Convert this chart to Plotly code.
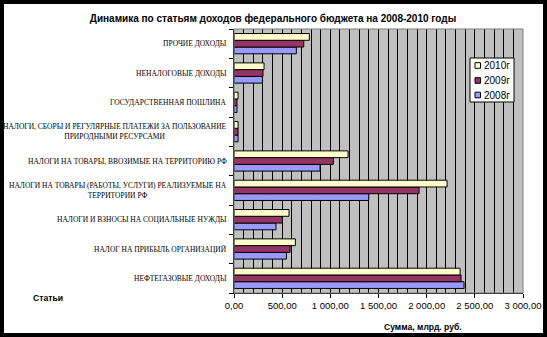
import plotly.graph_objects as go

# Revenue items, listed bottom to top as they appear on the chart
categories = [
    "НЕФТЕГАЗОВЫЕ ДОХОДЫ",
    "НАЛОГ НА ПРИБЫЛЬ ОРГАНИЗАЦИЙ",
    "НАЛОГИ И ВЗНОСЫ НА СОЦИАЛЬНЫЕ НУЖДЫ",
    "НАЛОГИ НА ТОВАРЫ (РАБОТЫ, УСЛУГИ) РЕАЛИЗУЕМЫЕ НА<br>ТЕРРИТОРИИ РФ",
    "НАЛОГИ НА ТОВАРЫ, ВВОЗИМЫЕ НА ТЕРРИТОРИЮ РФ",
    "НАЛОГИ, СБОРЫ И РЕГУЛЯРНЫЕ ПЛАТЕЖИ ЗА ПОЛЬЗОВАНИЕ<br>ПРИРОДНЫМИ РЕСУРСАМИ",
    "ГОСУДАРСТВЕННАЯ ПОШЛИНА",
    "НЕНАЛОГОВЫЕ ДОХОДЫ",
    "ПРОЧИЕ ДОХОДЫ",
]

# Amounts, bn rub.
values_2008 = [2388, 544, 436, 1399, 893, 42, 31, 295, 647]
values_2009 = [2357, 582, 502, 1921, 1032, 42, 31, 301, 724]
values_2010 = [2347, 637, 571, 2212, 1184, 42, 42, 312, 782]

series_names = ["2008г", "2009г", "2010г"]
series_values = [values_2008, values_2009, values_2010]
series_colors = ["#9999FF", "#993366", "#FFFFCC"]

x_ticks = [0, 500, 1000, 1500, 2000, 2500, 3000]

W, H = 547, 337
ml, mr, mt, mb = 234, 24, 29, 44
pw, ph = W - ml - mr, H - mt - mb


def px_x(px):
    """pixel column -> paper x"""
    return (px - ml) / pw


def px_y(py):
    """pixel row -> paper y"""
    return (H - mb - py) / ph


fig = go.Figure()
for name, vals, color in zip(series_names, series_values, series_colors):
    fig.add_trace(go.Bar(
        y=list(range(len(categories))),
        x=vals,
        name=name,
        orientation="h",
        marker=dict(color=color, line=dict(color="black", width=1)),
        showlegend=False,
    ))

# Category labels drawn as annotations so wrapped lines stay centred
for i, label in enumerate(categories):
    fig.add_annotation(
        x=px_x(229), xref="paper", y=i, yref="y",
        text=label, showarrow=False,
        xanchor="right", yanchor="middle", align="center",
        font=dict(family="Liberation Serif", size=7.5, color="black"),
    )

# outer black frame
fig.add_shape(
    type="rect", xref="paper", yref="paper",
    x0=px_x(0), x1=px_x(W), y0=px_y(H), y1=px_y(0),
    line=dict(color="black", width=8), fillcolor="rgba(0,0,0,0)", layer="above",
)
# grey border round the plot area
fig.add_shape(
    type="rect", xref="paper", yref="paper",
    x0=0, x1=1, y0=0, y1=1,
    line=dict(color="#808080", width=1), fillcolor="rgba(0,0,0,0)", layer="above",
)

# legend box: 2010 on top, 2008 at the bottom
fig.add_shape(
    type="rect", xref="paper", yref="paper",
    x0=px_x(470), x1=px_x(514), y0=px_y(102), y1=px_y(58),
    line=dict(color="black", width=1), fillcolor="white", layer="above",
)
row_centres = [95, 80.5, 65.5]
for name, color, yc in zip(series_names, series_colors, row_centres):
    fig.add_shape(
        type="rect", xref="paper", yref="paper",
        x0=px_x(475), x1=px_x(480.5), y0=px_y(yc + 2.8), y1=px_y(yc - 2.8),
        line=dict(color="black", width=1), fillcolor=color, layer="above",
    )
    fig.add_annotation(
        x=px_x(481.5), xref="paper", y=px_y(yc), yref="paper",
        text=name, showarrow=False, xanchor="left", yanchor="middle",
        font=dict(family="Liberation Sans", size=10, color="black"),
    )

fig.add_annotation(
    x=px_x(31), xref="paper", y=px_y(298), yref="paper",
    text="<b>Статьи</b>", showarrow=False, xanchor="left", yanchor="middle",
    font=dict(family="Liberation Sans", size=8.6, color="black"),
)
fig.add_annotation(
    x=px_x(423), xref="paper", y=px_y(327), yref="paper",
    text="<b>Сумма, млрд. руб.</b>", showarrow=False, xanchor="center", yanchor="middle",
    font=dict(family="Liberation Sans", size=8.6, color="black"),
)

fig.update_layout(
    width=W, height=H,
    margin=dict(l=ml, r=mr, t=mt, b=mb, pad=0),
    paper_bgcolor="white",
    plot_bgcolor="#C0C0C0",
    separators=", ",
    barmode="group",
    bargap=0.31,
    bargroupgap=0,
    title=dict(
        text="<b>Динамика по статьям доходов федерального бюджета на 2008-2010 годы</b>",
        x=273 / W, xanchor="center", y=1 - 18 / H, yanchor="middle",
        font=dict(family="Liberation Sans", size=10, color="black"),
    ),
    xaxis=dict(
        range=[0, 3000],
        tickvals=x_ticks,
        tickformat=",.2f",
        ticks="outside", ticklen=4, tickcolor="black",
        showgrid=True, gridcolor="black", gridwidth=1,
        minor=dict(dtick=100, showgrid=True, gridcolor="black", gridwidth=1),
        showline=True, linecolor="black", linewidth=1,
        zeroline=False,
        automargin=False,
        tickfont=dict(family="Liberation Sans", size=9.5, color="black"),
    ),
    yaxis=dict(
        range=[-0.5, len(categories) - 0.5],
        tickvals=[i - 0.5 for i in range(len(categories) + 1)],
        showticklabels=False,
        ticks="outside", ticklen=4, tickcolor="black",
        showgrid=False, zeroline=False,
        automargin=False,
        showline=True, linecolor="black", linewidth=1,
    ),
    showlegend=False,
)

fig.write_html("out.html")
